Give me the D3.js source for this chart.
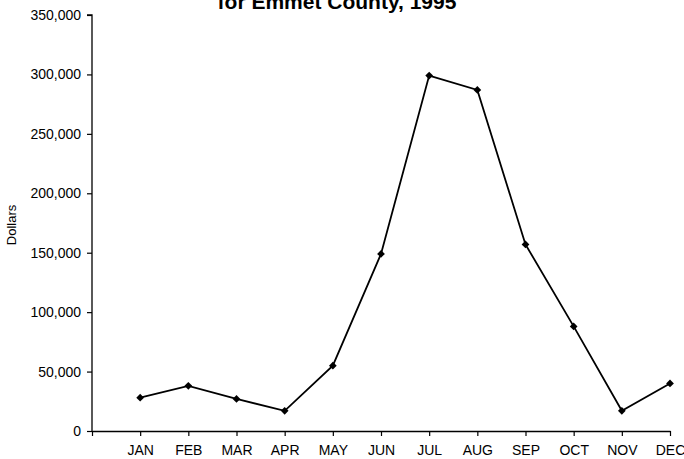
<!DOCTYPE html>
<html>
<head>
<meta charset="utf-8">
<script src="https://cdn.jsdelivr.net/npm/d3@7"></script>
<style>
  html, body { margin: 0; padding: 0; background: #fff; }
  svg { display: block; }
  text { font-family: "Liberation Sans", Arial, sans-serif; fill: #000; }
</style>
</head>
<body>
<svg id="chart" width="684" height="459"></svg>
<script>
// Monthly totals in dollars
const months = ["JAN", "FEB", "MAR", "APR", "MAY", "JUN", "JUL", "AUG", "SEP", "OCT", "NOV", "DEC"];
const dollars = [28000, 38000, 27000, 17000, 55000, 149000, 299000, 287000, 157000, 88000, 17000, 40000];
const yTicks = [0, 50000, 100000, 150000, 200000, 250000, 300000, 350000];
const titleText = "for Emmet County, 1995";
const yLabel = "Dollars";

const svg = d3.select("#chart");
const margin = { left: 92, top: 15, right: 14, bottom: 28 };
const W = 684, H = 459;

// The axis origin occupies slot 0; months sit on slots 1..12
const x = d3.scaleLinear().domain([0, months.length]).range([margin.left, W - margin.right]);
const y = d3.scaleLinear().domain([0, 350000]).range([H - margin.bottom, margin.top]);

const fmt = d3.format(",");

// Y axis
const yAxis = d3.axisLeft(y).tickValues(yTicks).tickFormat(fmt).tickSize(5).tickPadding(6);
const gy = svg.append("g").attr("transform", `translate(${margin.left},0)`).call(yAxis);
gy.select(".domain").attr("stroke", "#000").attr("stroke-width", 1.3).attr("d", `M-5,${y(350000)}H0V${y(0)}`);
gy.selectAll(".tick line").attr("stroke", "#000").attr("stroke-width", 1.2);
gy.selectAll(".tick text").style("font-size", "14px").attr("fill", "#000");

// X axis with a tick at the origin and one per month
const xAxis = d3.axisBottom(x)
  .tickValues(d3.range(0, months.length + 1))
  .tickFormat(i => i === 0 ? "" : months[i - 1])
  .tickSize(5).tickSizeOuter(0).tickPadding(9);
const gx = svg.append("g").attr("transform", `translate(0,${y(0)})`).call(xAxis);
gx.select(".domain").attr("stroke", "#000").attr("stroke-width", 1.3);
gx.selectAll(".tick line").attr("stroke", "#000").attr("stroke-width", 1.2);
gx.selectAll(".tick text").style("font-size", "14px").attr("fill", "#000");

// Data line
const line = d3.line().x((d, i) => x(i + 1)).y(d => y(d));
svg.append("path")
  .datum(dollars)
  .attr("fill", "none")
  .attr("stroke", "#000")
  .attr("stroke-width", 1.8)
  .attr("d", line);

// Diamond markers
const diamond = d3.symbol().type(d3.symbolDiamond2).size(38);
svg.append("g").selectAll("path")
  .data(dollars)
  .join("path")
  .attr("d", diamond)
  .attr("transform", (d, i) => `translate(${x(i + 1)},${y(d)})`)
  .attr("fill", "#000");

// Title (upper line runs off the top edge)
svg.append("text")
  .attr("x", 337)
  .attr("y", 9)
  .attr("text-anchor", "middle")
  .style("font-size", "21px")
  .style("font-weight", "bold")
  .text(titleText);

// Y axis label
svg.append("text")
  .attr("transform", `translate(16,225) rotate(-90)`)
  .attr("text-anchor", "middle")
  .style("font-size", "13px")
  .text(yLabel);
</script>
</body>
</html>
